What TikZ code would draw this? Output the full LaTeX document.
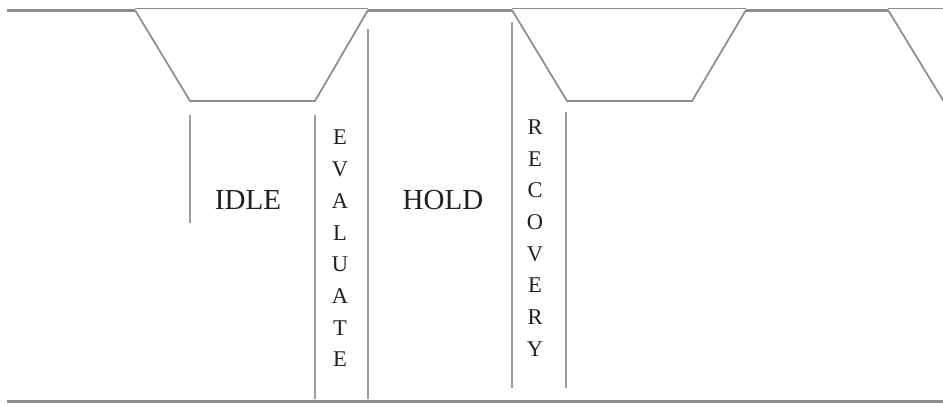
\documentclass[tikz,border=0pt]{standalone}
\usepackage{fontspec}
\setmainfont{Liberation Serif}
\definecolor{linegray}{HTML}{8C8C8C}
\definecolor{txtgray}{HTML}{202020}
\tikzset{
  thickrail/.style={draw=linegray, line width=3pt},
  thinrail/.style={draw=linegray, line width=1.7pt, line join=miter},
  divider/.style={draw=linegray!85, line width=2.2pt},
  biglabel/.style={inner sep=0pt, text=txtgray, font=\fontsize{29}{31}\selectfont},
  stacklabel/.style={inner sep=0pt, align=center, text=txtgray, font=\fontsize{22.5}{31.7}\selectfont}
}
\begin{document}
\begin{tikzpicture}[x=1pt, y=-1pt]
\useasboundingbox[fill=white] (0,0) rectangle (943,405);
% named points of the clock wave
\coordinate (s0) at (7,10);
\coordinate (a1) at (135,10);
\coordinate (b1) at (190,101);
\coordinate (c1) at (315,101);
\coordinate (d1) at (368,10);
\coordinate (a2) at (512,10);
\coordinate (b2) at (567,101);
\coordinate (c2) at (692,101);
\coordinate (d2) at (746,10);
\coordinate (a3) at (888,10);
\coordinate (b3) at (949,110);
\coordinate (t1) at (135,8.5);
\coordinate (t2) at (368,8.5);
\coordinate (t3) at (512,8.5);
\coordinate (t4) at (746,8.5);
\coordinate (t6) at (888,8.5);
\coordinate (t5) at (943,8.5);
% thick high segments
\draw[thickrail] (s0) -- (a1);
\draw[thickrail] (d1) -- (a2);
\draw[thickrail] (d2) -- (a3);
% thin top line over the low pulses
\draw[thinrail] (t1) -- (t2);
\draw[thinrail] (t3) -- (t4);
\draw[thinrail] (t6) -- (t5);
% trapezoid pulses
\draw[thinrail] (a1) -- (b1) -- (c1) -- (d1);
\draw[thinrail] (a2) -- (b2) -- (c2) -- (d2);
\begin{scope}
\clip (0,0) rectangle (943,405);
\draw[thinrail] (a3) -- (b3);
\end{scope}
% vertical dividers
\coordinate (v1t) at (190,115); \coordinate (v1b) at (190,223);
\coordinate (v2t) at (315,115); \coordinate (v2b) at (315,399);
\coordinate (v3t) at (368,29);  \coordinate (v3b) at (368,399);
\coordinate (v4t) at (512,22);  \coordinate (v4b) at (512,388);
\coordinate (v5t) at (566,112); \coordinate (v5b) at (566,388);
\draw[divider] (v1t) -- (v1b);
\draw[divider] (v2t) -- (v2b);
\draw[divider] (v3t) -- (v3b);
\draw[divider] (v4t) -- (v4b);
\draw[divider] (v5t) -- (v5b);
% bottom line
\coordinate (g0) at (7,401);
\coordinate (g1) at (943,401);
\draw[thickrail] (g0) -- (g1);
% labels
\node[biglabel] (idle) at (248,200) {IDLE};
\node[biglabel] (hold) at (443,200) {HOLD};
\node[stacklabel] (evaluate) at (340,248.5) {E\\V\\A\\L\\U\\A\\T\\E};
\node[stacklabel] (recovery) at (535,238) {R\\E\\C\\O\\V\\E\\R\\Y};
\end{tikzpicture}
\end{document}
